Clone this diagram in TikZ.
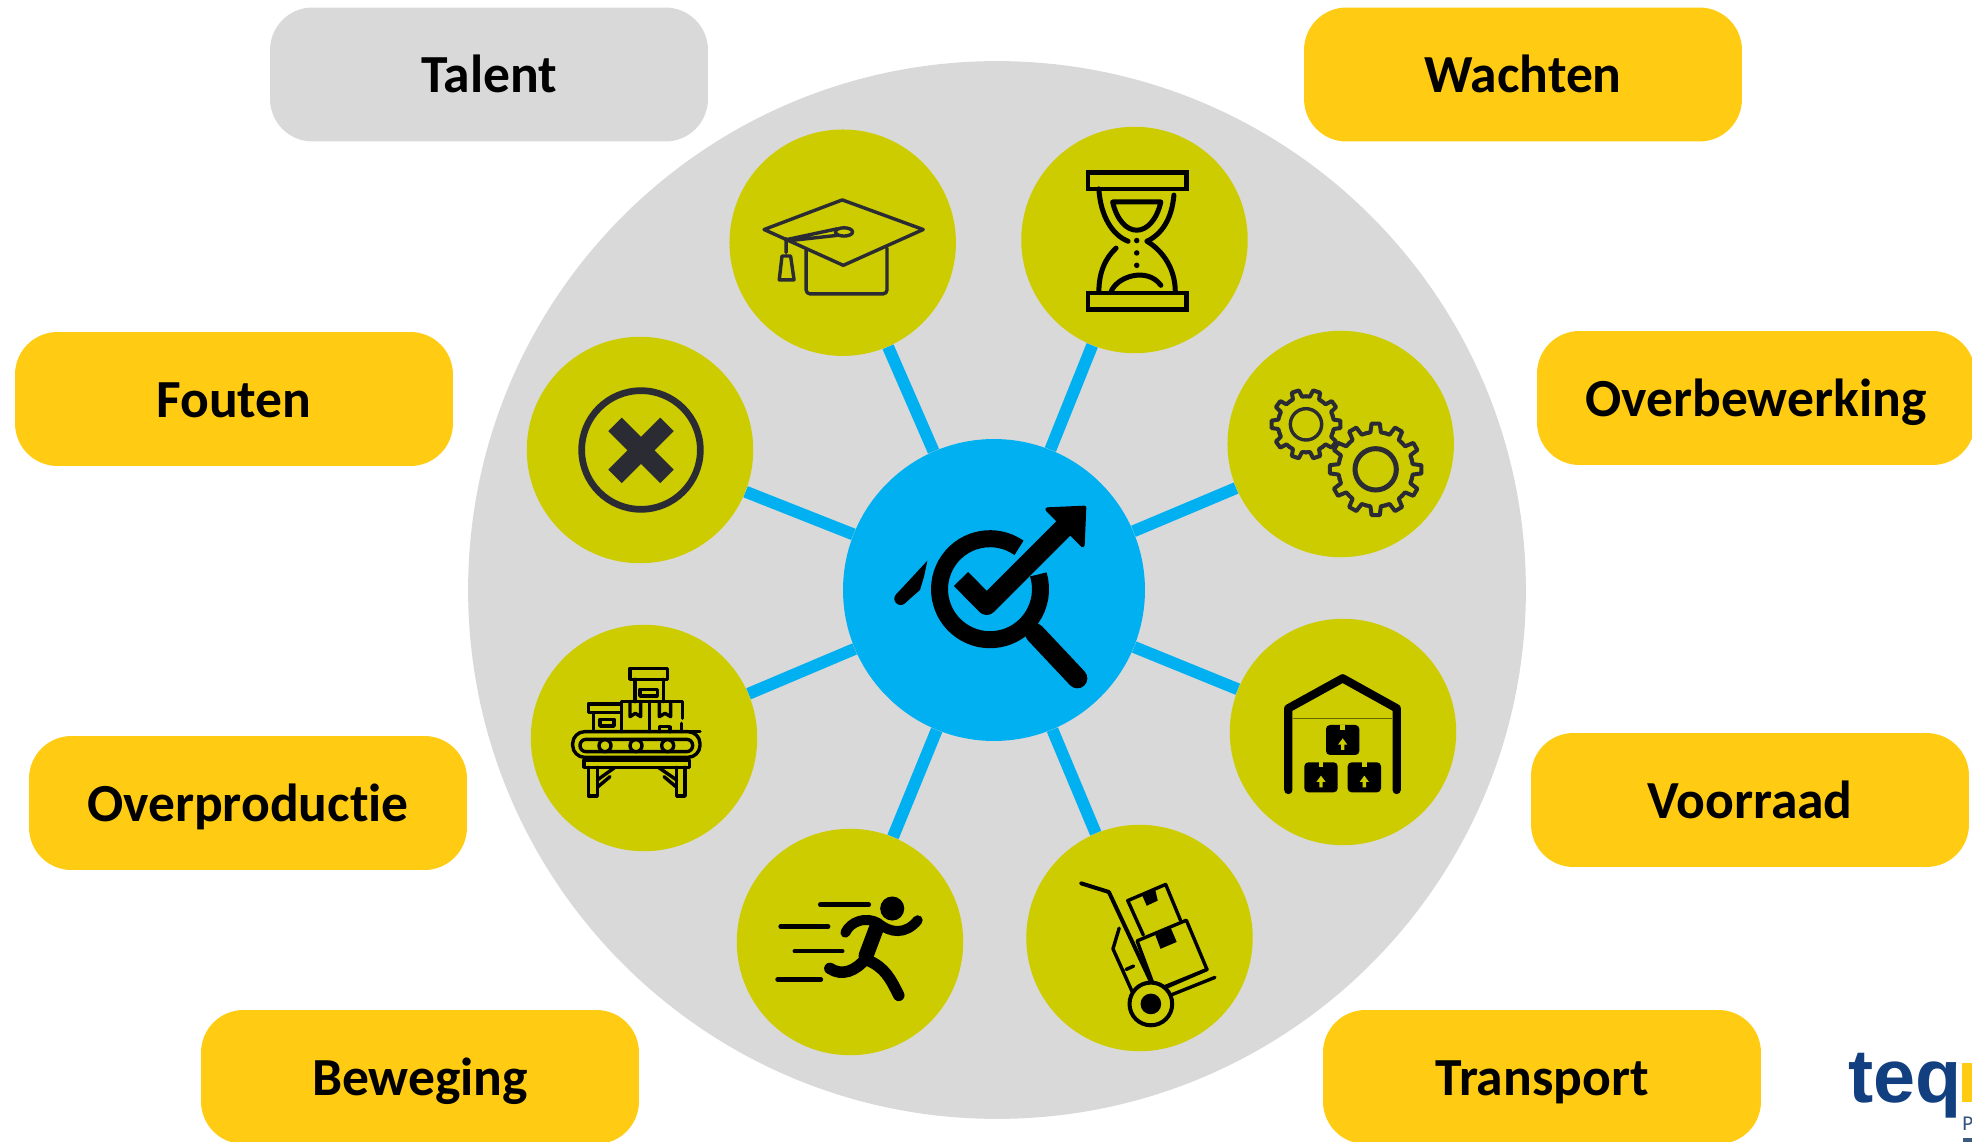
\documentclass[tikz,border=0pt]{standalone}
\usepackage{fontspec}
\setmainfont{Carlito}[Ligatures=NoCommon]
\newfontfamily\logofont{Liberation Sans}
\usepackage{xcolor}
\definecolor{discgray}{HTML}{D9D9D9}
\definecolor{hubblue}{HTML}{00B0F0}
\definecolor{bulletgreen}{HTML}{CCCC00}
\definecolor{labelyellow}{HTML}{FFCB13}
\definecolor{icondark}{HTML}{2B2B33}
\definecolor{logoblue}{HTML}{123F7F}
\tikzset{
	disc/.style={circle,fill=discgray,minimum size=21.16cm,inner sep=0},
	hub/.style={circle,fill=hubblue,minimum size=6.04cm,inner sep=0},
	bullet/.style={circle,fill=bulletgreen,minimum size=4.53cm,inner sep=0},
	spoke/.style={hubblue,line width=12*0.02cm},
	label/.style={rounded corners=0.85cm,fill=labelyellow,minimum width=8.76cm,minimum height=2.68cm,inner sep=0,text height=0.73cm,text depth=0pt,font=\bfseries\fontsize{30.5}{36}\selectfont},
	thinline/.style={line width=3.4*0.02cm,line cap=round,line join=round},
	boldline/.style={line width=5*0.02cm,line cap=round,line join=round}
}
\newcommand{\gearwheel}[5]{
	\begin{scope}[shift={(#1,#2)}]
		\pgfmathsetmacro{\gearstep}{360/#5}
		\foreach \t in {1,...,#5}{
			\draw[line width=4*0.02cm,line cap=round,line join=round,icondark] ({(\t-0.5)*\gearstep}:#3) -- ({(\t-0.27)*\gearstep}:#3) -- ({(\t-0.17)*\gearstep}:#4) -- ({(\t+0.17)*\gearstep}:#4) -- ({(\t+0.27)*\gearstep}:#3) -- ({(\t+0.5)*\gearstep}:#3);
		}
	\end{scope}
}
\begin{document}
\begin{tikzpicture}[x=0.02cm,y=-0.02cm]
	\clip (0,0) rectangle (1972,1142);
	\node[disc] (wheel) at (997,590) {};
	\node[hub] (centre) at (994,590) {};
	\node[bullet] (cap) at (842.7,242.7) {};
	\node[bullet] (glass) at (1134.5,240) {};
	\node[bullet] (gears) at (1340.7,444) {};
	\node[bullet] (store) at (1343,732) {};
	\node[bullet] (trolley) at (1139.5,938) {};
	\node[bullet] (runner) at (850,942) {};
	\node[bullet] (belt) at (644,738) {};
	\node[bullet] (cross) at (640,450) {};
	\foreach \n in {cap,glass,gears,store,trolley,runner,belt,cross}
		\draw[spoke] (centre) -- (\n);

	\node[label,fill=discgray] (talent) at (489,74.5) {Talent};
	\node[label] (wachten) at (1523,74.5) {Wachten};
	\node[label] (overbewerking) at (1756,398) {Overbewerking};
	\node[label] (fouten) at (234,399) {Fouten};
	\node[label] (overproductie) at (248,803) {Overproductie};
	\node[label] (voorraad) at (1750,800) {Voorraad};
	\node[label] (beweging) at (420,1077) {Beweging};
	\node[label] (transport) at (1542,1077) {Transport};

	% centre
	\begin{scope}[shift={(850,430)},scale=1/3]
		\draw[line width=17*0.02cm] (507,353.5) arc [start angle=-55,end angle=-377,radius=151.5];
		\draw[line width=20*0.02cm,line join=round] (333,447) -- (410,525) -- (645,290);
		\filldraw[line width=4*0.02cm,line join=round] (592,238) -- (703,233) -- (698,346) -- cycle;
		\draw[line width=20*0.02cm,line cap=round] (555,610) -- (682,745);
		\fill (232,392) -- (222,440) -- (210,480) -- (165,519) -- (139,493) -- cycle;
		\draw[line width=12.7*0.02cm,line cap=round] (152,506) -- (190,468);
	\end{scope}

	% cap
	\begin{scope}[shift={(720,120)},scale=0.3444,icondark]
		\draw[thinline] (355,232) -- (590,318) -- (358,422) -- (128,318) -- cycle;
		\draw[thinline] (190,348) -- (340,316) (205,350) -- (340,335);
		\draw[thinline] (360,325) ellipse [x radius=25,y radius=12];
		\draw[thinline] (192,345) -- (192,385) (180,395) -- (205,395) -- (215,464) -- (172,464) -- cycle;
		\draw[thinline,rounded corners=4*0.02cm] (250,375) -- (250,505) -- (485,505) -- (485,372);
	\end{scope}

	% hourglass
	\begin{scope}[shift={(720,120)},scale=0.3444]
		\draw[line width=4.5*0.02cm] (1068,152) rectangle (1355,200);
		\draw[line width=4.5*0.02cm] (1068,502) rectangle (1355,550);
		\draw[boldline] (1100,200) .. controls (1105,280) and (1140,335) .. (1185,352);
		\draw[boldline] (1318,218) .. controls (1312,285) and (1285,330) .. (1240,352);
		\draw[boldline] (1150,372) .. controls (1120,400) and (1100,440) .. (1100,500);
		\draw[boldline] (1240,352) .. controls (1285,380) and (1322,430) .. (1322,500);
		\draw[boldline] (1140,238) -- (1280,238) .. controls (1268,290) and (1240,320) .. (1210,320) .. controls (1180,320) and (1152,290) .. (1140,238) -- cycle;
		\draw[boldline] (1135,500) .. controls (1150,455) and (1240,425) .. (1280,480);
		\foreach \y in {350,386,422}
			\fill (1210,\y) circle [radius=8];
	\end{scope}

	% error
	\begin{scope}[shift={(520,330)},scale=1/3,icondark]
		\draw[line width=6.7*0.02cm] (363,360) circle [radius=178];
		\draw[line width=19*0.02cm] (285,283) -- (441,439) (441,283) -- (285,439);
	\end{scope}

	% conveyor
	\begin{scope}[shift={(520,330)},scale=1/3]
		\draw[thinline,rounded corners=12*0.02cm] (158,1205) rectangle (540,1282);
		\draw[thinline,rounded corners=6*0.02cm] (180,1228) rectangle (518,1265);
		\foreach \x in {255,348,443}
			\filldraw[thinline,fill=bulletgreen] (\x,1247) circle [radius=18];
		\draw[thinline] (192,1290) rectangle (508,1312);
		\draw[thinline] (205,1312) -- (205,1398) -- (232,1398) -- (232,1312);
		\draw[thinline] (470,1312) -- (470,1398) -- (495,1398) -- (495,1312);
		\draw[thinline] (232,1350) -- (285,1312) (232,1372) -- (270,1340);
		\draw[thinline] (470,1350) -- (415,1312) (470,1372) -- (432,1340);
		\draw[thinline] (330,1015) rectangle (443,1048);
		\draw[thinline] (345,1048) -- (345,1115) (430,1048) -- (430,1115);
		\draw[thinline] (360,1078) rectangle (412,1098);
		\draw[thinline] (305,1205) -- (305,1115) -- (488,1115) -- (488,1165) (388,1115) -- (388,1205);
		\draw[thinline] (330,1118) -- (330,1160) -- (346,1150) -- (362,1160) -- (362,1118);
		\draw[thinline] (418,1118) -- (418,1160) -- (435,1150) -- (452,1160) -- (452,1118);
		\draw[thinline] (205,1122) rectangle (305,1148);
		\draw[thinline] (220,1148) -- (220,1205) -- (335,1205) (360,1205) -- (540,1205);
		\draw[thinline] (240,1168) rectangle (282,1188);
		\draw[thinline] (418,1205) -- (418,1190) -- (450,1190) -- (450,1205) (485,1180) -- (485,1205);
	\end{scope}

	% gears
	\begin{scope}[shift={(1220,330)},scale=1/3,icondark]
		\gearwheel{258}{283}{84}{104}{10}
		\draw[thinline] (258,283) circle [radius=47];
		\gearwheel{467}{418}{112}{138}{12}
		\draw[line width=5*0.02cm] (467,418) circle [radius=62];
	\end{scope}

	% warehouse
	\begin{scope}[shift={(1220,330)},scale=1/3]
		\draw[line width=8.3*0.02cm,line cap=round,line join=round] (205,1380) -- (205,1135) -- (368,1045) -- (530,1135) -- (530,1380);
		\draw[line width=0.5*0.02cm,black!50!bulletgreen] (220,1165) -- (515,1165);
		\foreach \x/\y in {368/1230,303/1342,433/1342} {
			\fill[rounded corners=4*0.02cm] (\x-50,\y-45) rectangle (\x+50,\y+45);
			\fill[bulletgreen] (\x-7,\y-45) rectangle (\x+7,\y-30);
			\fill[bulletgreen] (\x-5,\y+30) -- (\x-5,\y+14) -- (\x-14,\y+14) -- (\x,\y-5) -- (\x+14,\y+14) -- (\x+5,\y+14) -- (\x+5,\y+30) -- cycle;
		}
	\end{scope}

	% hand truck
	\begin{scope}[shift={(730,830)},scale=0.3444]
		\draw[line width=4*0.02cm,line cap=round,line join=round] (1020,155) -- (1100,180) -- (1222,440);
		\draw[line width=4*0.02cm] (1222,505) circle [radius=62];
		\fill (1222,505) circle [radius=30];
		\draw[thinline] (1283,478) -- (1408,428) (1270,455) -- (1385,405);
		\draw[thinline] (1200,305) -- (1155,205) -- (1265,158) -- (1308,262);
		\draw[thinline] (1182,322) -- (1325,262) -- (1385,405) -- (1262,455) (1182,322) -- (1226,440);
		\fill (1235,305) -- (1280,285) -- (1297,325) -- (1250,345) -- cycle;
		\fill (1197,190) -- (1235,175) -- (1242,205) -- (1210,220) -- cycle;
		\draw[thinline] (1130,285) -- (1112,345) -- (1168,470) (1150,405) -- (1172,395);
	\end{scope}

	% runner
	\begin{scope}[shift={(730,830)},scale=0.3444]
		\draw[line width=4.5*0.02cm,line cap=round] (262,217) -- (403,217) (147,280) -- (285,280) (188,352) -- (326,352) (138,434) -- (264,434);
		\fill (471,228) circle [radius=35];
		\draw[line width=10*0.02cm,line cap=round,line join=round] (335,298) .. controls (350,265) and (395,250) .. (430,270) .. controls (465,300) and (510,305) .. (545,262);
		\draw[line width=15*0.02cm,line cap=round] (425,285) -- (395,365);
		\draw[line width=11.5*0.02cm,line cap=round] (290,402) .. controls (325,425) and (365,410) .. (395,372);
		\draw[line width=11.5*0.02cm,line cap=round] (400,378) .. controls (450,400) and (465,430) .. (490,480);
	\end{scope}

	% logo
	\node[anchor=base west,inner sep=0,text=logoblue,font=\logofont\bfseries\fontsize{43}{50}\selectfont] (logo) at (1848,1102) {teq};
	\fill[labelyellow] (1962,1063) rectangle (1972,1102);
	\node[anchor=base west,inner sep=0,text=logoblue!70!gray,font=\fontsize{12}{14}\selectfont] (logop) at (1962,1130) {P};
	\fill[logoblue!60!gray] (1963,1138) rectangle (1972,1142);
\end{tikzpicture}
\end{document}
